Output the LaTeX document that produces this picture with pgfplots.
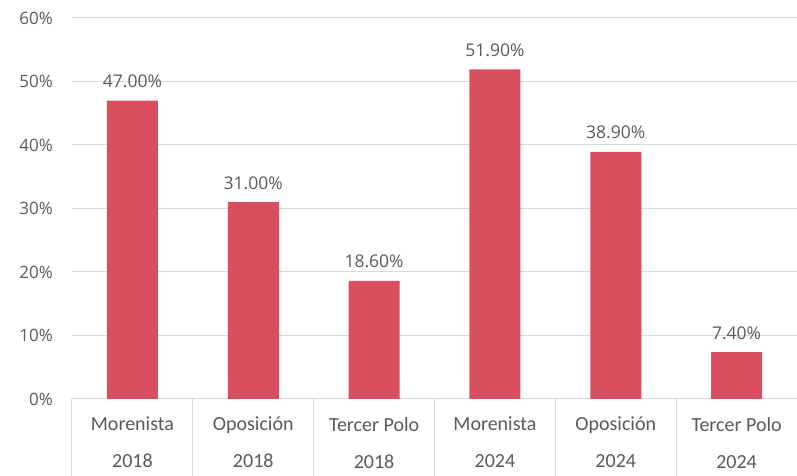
\documentclass[border=0pt]{standalone}
\usepackage{pgfplots}
\pgfplotsset{compat=1.18}
\usepackage{fontspec}
\setmainfont{Open Sans}
\newfontfamily\catfont{Carlito}
\definecolor{barred}{HTML}{D94F5F}
\definecolor{txt}{HTML}{595959}
\definecolor{gridc}{HTML}{D9D9D9}

\begin{document}
\begin{tikzpicture}
\path[use as bounding box] (-72pt,-77pt) rectangle (725pt,399pt);
\begin{axis}[
  at={(0pt,0pt)}, anchor=south west,
  scale only axis,
  width=725pt, height=381pt,
  xmin=-0.5, xmax=5.5,
  ymin=0, ymax=60,
  ytick={0,10,20,30,40,50,60},
  yticklabel={\pgfmathprintnumber{\tick}\%},
  /pgf/number format/assume math mode=true,
  yticklabel style={font=\fontsize{17}{18}\selectfont, text=txt, inner sep=0pt, xshift=-19pt},
  xtick={0,1,2,3,4,5},
  xticklabels={{Morenista\\2018},{Oposición\\2018},{Tercer Polo\\2018},
               {Morenista\\2024},{Oposición\\2024},{Tercer Polo\\2024}},
  xticklabel style={align=center, font=\catfont\fontsize{20}{37}\selectfont, text=txt,
                    anchor=north, inner sep=0pt, yshift=-18pt},
  major tick length=0pt,
  axis line style={draw=none},
  ymajorgrids,
  grid style={gridc, line width=1pt},
  clip=false,
  ybar, bar width=51pt,
  nodes near coords={\pgfmathprintnumber[fixed,fixed zerofill,precision=2]{\pgfplotspointmeta}\%},
  nodes near coords style={font=\fontsize{17.5}{19}\selectfont, text=txt, anchor=base, inner sep=0pt, yshift=13pt},
]
\addplot[fill=barred, draw=none] coordinates {
  (0,47.0) (1,31.0) (2,18.6) (3,51.9) (4,38.9) (5,7.4)
};
\foreach \s in {-0.5,0.5,1.5,2.5,3.5,4.5,5.5} {
  \edef\tmp{\noexpand\draw[gridc, line width=1pt] (axis cs:\s,0) -- ++(0pt,-77pt);}
  \tmp
}
\end{axis}
\end{tikzpicture}
\end{document}
